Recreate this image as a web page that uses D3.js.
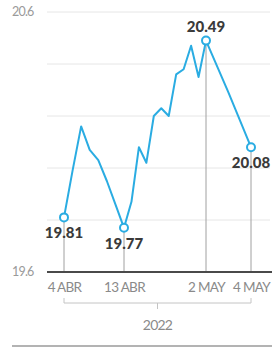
<!DOCTYPE html>
<html lang="es">
<head>
    <meta charset="UTF-8">
    <title>Tipo de cambio</title>
    <style>
        body { margin: 0; background: #fff; }
        text { font-family: Lato, "Open Sans", sans-serif; }
    </style>
</head>
<body>
<script src="https://cdn.jsdelivr.net/npm/d3@7/dist/d3.min.js"></script>
<script>

    // trading days shown on the chart
    var dates = ["4 ABR", "5 ABR", "6 ABR", "7 ABR", "8 ABR", "11 ABR", "12 ABR", "13 ABR",
        "18 ABR", "19 ABR", "20 ABR", "21 ABR", "22 ABR", "25 ABR", "26 ABR", "27 ABR",
        "28 ABR", "29 ABR", "2 MAY", "3 MAY", "4 MAY"];
    var values = [19.81, 19.99, 20.16, 20.07, 20.03, 19.95, 19.86, 19.77,
        19.87, 20.08, 20.02, 20.20, 20.23, 20.20, 20.36, 20.38,
        20.47, 20.35, 20.49, 20.29, 20.08];
    var tickLabels = ["4 ABR", "13 ABR", "2 MAY", "4 MAY"];
    var yTicks = [19.6, 19.8, 20.0, 20.2, 20.4, 20.6];
    var yLabels = ["19.6", "20.6"];
    var yearLabel = "2022";

    var width = 278, height = 349;
    var svg = d3.select("body").append("svg")
        .attr("width", width)
        .attr("height", height);

    var data = dates.map(function(d, i){ return { date: d, i: i, value: values[i] }; });

    // x is piecewise on the index so the labelled days sit where the original put them
    var x = d3.scaleLinear()
        .domain(tickLabels.map(function(t){ return dates.indexOf(t); }))
        .range([64, 124, 206, 251]);

    var y = d3.scaleLinear()
        .domain([19.6, 20.6])
        .range([272, 12]);

    // grid
    var gGrid = svg.append("g");
    gGrid.selectAll("line")
        .data(yTicks.slice(1))
        .enter()
        .append("line")
        .attr("x1", 47)
        .attr("x2", 270)
        .attr("y1", function(d){ return y(d); })
        .attr("y2", function(d){ return y(d); })
        .style("stroke", "#e6e6e6")
        .style("stroke-width", 1);

    gGrid.selectAll("text")
        .data(yLabels)
        .enter()
        .append("text")
        .attr("x", 12)
        .attr("y", function(d){ return y(+d); })
        .attr("dy", "0.35em")
        .style("font-size", "12.5px")
        .style("letter-spacing", "-0.8px")
        .style("fill", "#9a9a9a")
        .text(function(d){ return d; });

    // drop lines for the labelled days
    var marked = data.filter(function(d){ return tickLabels.indexOf(d.date) >= 0; });
    svg.append("g").selectAll("line")
        .data(marked)
        .enter()
        .append("line")
        .attr("x1", function(d){ return x(d.i); })
        .attr("x2", function(d){ return x(d.i); })
        .attr("y1", function(d){ return y(d.value); })
        .attr("y2", y(19.6))
        .style("stroke", "#a0a0a0")
        .style("stroke-width", 1);

    // x axis
    var xAxis = d3.axisBottom(x)
        .tickValues(marked.map(function(d){ return d.i; }))
        .tickFormat(function(i){ return dates[i]; })
        .tickSize(0)
        .tickPadding(10);

    var gX = svg.append("g")
        .attr("transform", "translate(0," + y(19.6) + ")")
        .call(xAxis);
    gX.select(".domain").remove();
    gX.selectAll("text")
        .style("font-family", "Lato, sans-serif")
        .style("font-size", "13.5px")
        .style("letter-spacing", "-0.7px")
        .style("fill", "#8a8a8a");

    svg.append("line")
        .attr("x1", 47)
        .attr("x2", 272)
        .attr("y1", y(19.6))
        .attr("y2", y(19.6))
        .style("stroke", "#4a4a4a")
        .style("stroke-width", 2);

    // year bracket
    var bx0 = x(0), bx1 = x(dates.length - 1), bm = (bx0 + bx1) / 2;
    svg.append("path")
        .attr("d", "M" + bx0 + ",298 V303 H" + bx1 + " V298 M" + bm + ",303 V309")
        .style("fill", "none")
        .style("stroke", "#c4c4c4")
        .style("stroke-width", 1);

    svg.append("text")
        .attr("x", bm)
        .attr("y", 330)
        .attr("text-anchor", "middle")
        .style("font-size", "14px")
        .style("letter-spacing", "-0.8px")
        .style("fill", "#8a8a8a")
        .text(yearLabel);

    svg.append("line")
        .attr("x1", 12)
        .attr("x2", 272)
        .attr("y1", 346)
        .attr("y2", 346)
        .style("stroke", "#9a9a9a")
        .style("stroke-width", 1.5);

    // line
    var line = d3.line()
        .x(function(d){ return x(d.i); })
        .y(function(d){ return y(d.value); });

    svg.append("path")
        .datum(data)
        .attr("d", line)
        .style("fill", "none")
        .style("stroke", "#2aace2")
        .style("stroke-width", 2)
        .style("stroke-linejoin", "round");

    svg.append("g").selectAll("circle")
        .data(marked)
        .enter()
        .append("circle")
        .attr("cx", function(d){ return x(d.i); })
        .attr("cy", function(d){ return y(d.value); })
        .attr("r", 4)
        .style("fill", "#fff")
        .style("stroke", "#2aace2")
        .style("stroke-width", 2);

    // value labels, above the peak and below the others
    svg.append("g").selectAll("text")
        .data(marked)
        .enter()
        .append("text")
        .attr("x", function(d){ return x(d.i); })
        .attr("y", function(d){ return y(d.value); })
        .attr("dy", function(d){ return d.date == "2 MAY" ? -9 : 21; })
        .attr("text-anchor", "middle")
        .style("font-size", "15px")
        .style("font-weight", "900")
        .style("fill", "#3a3a3a")
        .text(function(d){ return d.value.toFixed(2); });

</script>
</body>
</html>
